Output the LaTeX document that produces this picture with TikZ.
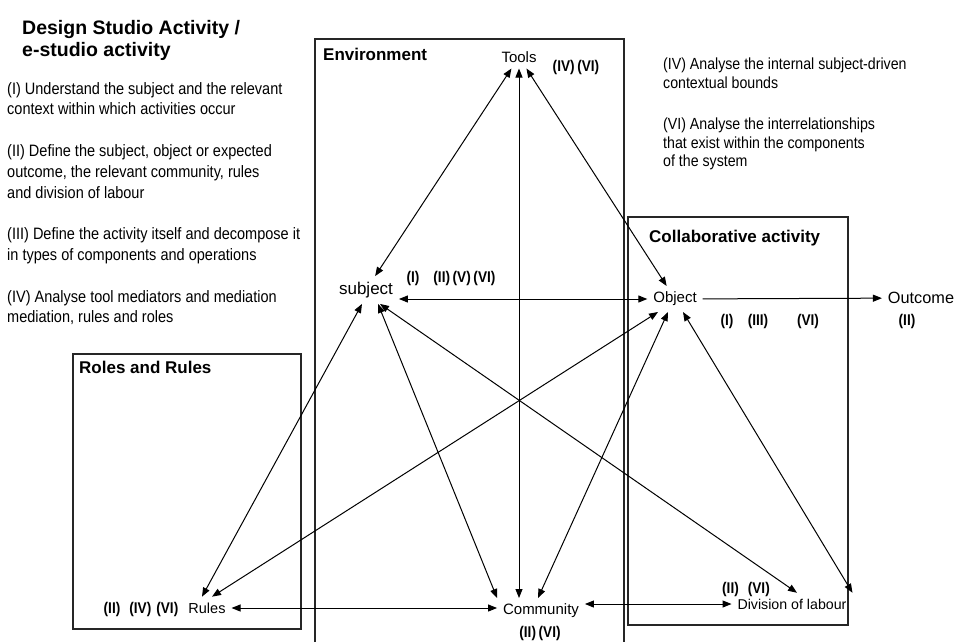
\documentclass[tikz,border=0pt]{standalone}
\usepackage{fontspec}
\setmainfont{Liberation Sans}
\newfontfamily\narrowfont[FakeStretch=0.88]{Liberation Sans}
\usetikzlibrary{arrows.meta}

\begin{document}
\begin{tikzpicture}[x=1pt,y=1pt,
	>={Triangle[length=9pt,width=7pt]},
	box/.style={draw=black!85,line width=1.1pt},
	boxtitle/.style={anchor=west,font=\fontsize{17}{20}\selectfont\bfseries},
	item/.style={inner sep=3pt,outer sep=3pt,font=\fontsize{15}{18}\selectfont},
	roman/.style={font=\narrowfont\fontsize{15.5}{18}\selectfont\bfseries},
	notes/.style={anchor=north west,align=left},
	link/.style={line width=1pt}]
	\tikzstyle{every node}+=[inner sep=0pt]
	\useasboundingbox (0,0) rectangle (957,-642);
	\node [notes,font=\fontsize{19.5}{22}\selectfont\bfseries] (title) at (22,-20.5) {Design Studio Activity /\\e-studio activity};
	\node [notes,font=\narrowfont\fontsize{16.5}{20.8}\selectfont] (leftnotes) at (7,-82) {(I) Understand the subject and the relevant\\context within which activities occur\\[20.8pt](II) Define the subject, object or expected\\outcome, the relevant community, rules\\and division of labour\\[20.8pt](III) Define the activity itself and decompose it\\in types of components and operations\\[20.8pt](IV) Analyse tool mediators and mediation\\mediation, rules and roles};
	\node [notes,font=\narrowfont\fontsize{16.1}{18.4}\selectfont] (rightnotes) at (663,-58) {(IV) Analyse the internal subject-driven\\contextual bounds\\[23.3pt](VI) Analyse the interrelationships\\that exist within the components\\of the system};
	\draw [box] (315,-642) |- (624,-39) -- (624,-642);
	\draw [box] (628,-217) rectangle (848,-625);
	\draw [box] (73,-354) rectangle (301,-629);
	\node [boxtitle] (envtitle) at (323,-54) {Environment};
	\node [boxtitle] (colltitle) at (649,-238) {Collaborative activity};
	\node [boxtitle] (roletitle) at (79,-367) {Roles and Rules};
	\node [item] (tools) at (519,-57) {Tools};
	\node [item,font=\fontsize{17}{20}\selectfont] (subject) at (366,-290) {subject};
	\node [item] (object) at (675,-299) {Object};
	\node [item,font=\fontsize{16.3}{19}\selectfont] (outcome) at (921,-298) {Outcome};
	\node [item,font=\fontsize{14.5}{17}\selectfont] (rules) at (207,-608) {Rules};
	\node [item] (community) at (541,-611) {Community};
	\node [item,font=\fontsize{14.2}{17}\selectfont] (labour) at (792,-604) {Division of labour};
	\node [roman] (toolsmark) at (576,-67) {(IV)\,(VI)};
	\node [roman] (subjectmark) at (451,-278) {(I)\hspace{14pt}(II)\,(V)\,(VI)};
	\node [roman] (objectmark1) at (727,-321) {(I)};
	\node [roman] (objectmark2) at (758,-321) {(III)};
	\node [roman] (objectmark3) at (808,-321) {(VI)};
	\node [roman] (outcomemark) at (907,-321) {(II)};
	\node [roman] (rulesmark) at (141,-609) {(II)\hspace{9pt}(IV)\hspace{5pt}(VI)};
	\node [roman] (communitymark) at (540,-633) {(II)\,(VI)};
	\node [roman] (labourmark) at (746,-589) {(II)\hspace{9pt}(VI)};
	\draw [link,<->] (tools) -- (subject);
	\draw [link,<->] (tools.south) -- (tools.south |- community.north);
	\draw [link,<->] (tools) -- (object);
	\draw [link,<->] (subject.east |- object.west) -- (object.west);
	\draw [link,->] (object) -- (outcome);
	\draw [link,<->] ([xshift=-4pt]subject.south) -- ([xshift=-5pt]rules.north);
	\draw [link,<->] ([xshift=12pt]subject.south) -- (community.north west);
	\draw [link,<->] ([xshift=14pt]subject.south) -- ([xshift=5pt]labour.north);
	\draw [link,<->] ([xshift=-17pt]object.south) -- ([xshift=5pt]rules.north);
	\draw [link,<->] ([xshift=-7pt]object.south) -- ([xshift=-3pt]community.north);
	\draw [link,<->] ([xshift=8pt]object.south) -- (labour.north east);
	\draw [link,<->] (rules.east) -- (rules.east -| community.west);
	\draw [link,<->] (community.east |- labour.west) -- (labour.west);
\end{tikzpicture}
\end{document}
